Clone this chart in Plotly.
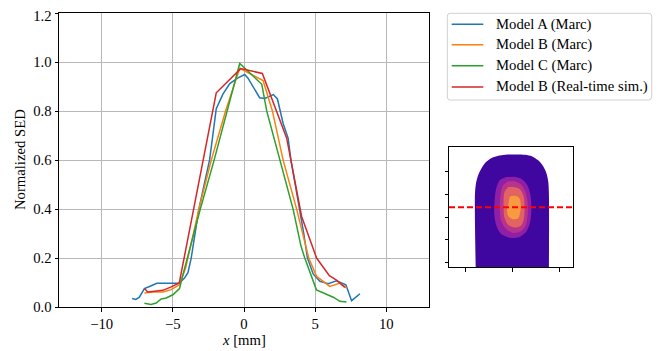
import plotly.graph_objects as go

# ---------------- profile data (x in mm, normalized SED) ----------------
a_x = [-7.86, -7.6, -7.35, -7.0, -6.64, -6.13, -5.5, -4.55, -4.18, -3.94, -3.71, -3.45, -3.17, -2.8,
       -2.42, -2.15, -1.95, -1.48, -1.0, -0.45, 0.05, 0.28, 0.75, 1.1, 1.46, 1.75, 2.06, 2.35, 2.55,
       2.75, 3.1, 3.3, 3.6, 3.92, 4.2, 4.46, 4.86, 5.33, 5.92, 6.5, 7.16, 7.56, 8.15]
a_y = [0.035, 0.031, 0.04, 0.075, 0.084, 0.097, 0.097, 0.097, 0.118, 0.14, 0.2, 0.3, 0.4, 0.5,
       0.6, 0.72, 0.81, 0.87, 0.913, 0.935, 0.95, 0.935, 0.89, 0.855, 0.852, 0.86, 0.868, 0.85, 0.8,
       0.75, 0.69, 0.6, 0.5, 0.4, 0.3, 0.2, 0.135, 0.105, 0.095, 0.107, 0.091, 0.026, 0.054]

b_x = [-7.0, -6.4, -5.7, -5.12, -4.53, -4.1, -3.17, -2.3, -1.3, -0.3, 1.34, 2.0, 2.75, 3.7, 4.55,
       5.1, 6.03, 6.74, 7.2]
b_y = [0.057, 0.061, 0.061, 0.071, 0.091, 0.16, 0.4, 0.6, 0.8, 0.975, 0.925, 0.8, 0.6, 0.4, 0.2,
       0.125, 0.084, 0.098, 0.078]

c_x = [-7.0, -6.53, -6.17, -5.82, -5.47, -5.0, -4.53, -4.3, -3.07, -2.1, -0.3, 1.25, 1.6, 2.55,
       3.45, 4.0, 4.27, 5.09, 5.92, 6.27, 6.74, 7.2]
c_y = [0.015, 0.01, 0.016, 0.033, 0.037, 0.05, 0.075, 0.13, 0.4, 0.6, 0.995, 0.91, 0.8, 0.6,
       0.4, 0.25, 0.2, 0.07, 0.05, 0.04, 0.023, 0.02]

r_x = [-7.0, -6.76, -6.29, -5.7, -5.12, -4.55, -1.95, -0.23, 1.29, 3.0, 4.05, 5.1, 6.0, 6.5, 7.09]
r_y = [0.076, 0.061, 0.064, 0.068, 0.082, 0.098, 0.875, 0.974, 0.954, 0.69, 0.37, 0.2, 0.128,
       0.11, 0.08]

names = ["Model A (Marc)", "Model B (Marc)", "Model C (Marc)", "Model B (Real-time sim.)"]
colors = ["#1f77b4", "#ff7f0e", "#2ca02c", "#d62728"]

x_ticks = [-10, -5, 0, 5, 10]
x_ticktext = ["\u221210", "\u22125", "0", "5", "10"]
y_ticks = [0.0, 0.2, 0.4, 0.6, 0.8, 1.0, 1.2]

# ---------------- inset (SED map, mm) ----------------
tissue_x = [-7.74, -7.89, -7.89, -7.67, -7.19, -6.47, -5.62, -4.36, -2.96, -1.54, 2.69, 4.23,
            5.50, 6.55, 7.27, 7.61, 7.76, 7.76]
tissue_y = [-11.5, -2.05, 5.27, 7.47, 9.30, 10.77, 12.02, 12.97, 13.47, 13.69, 13.69, 13.33,
            12.46, 11.14, 9.52, 7.85, 5.27, -11.5]

lvl1_x = [-1.26, -2.67, -3.38, -3.75, -3.8, -3.3, -2.3, -0.35, 1.56, 3.0, 3.8, 4.05, 3.85, 3.2, 1.91, 0.5]
lvl1_y = [8.8, 8.1, 6.4, 3.5, 0.4, -2.1, -3.8, -4.6, -4.4, -3.2, -1.1, 1.9, 4.9, 7.0, 8.4, 8.85]

lvl2_x = [-0.91, -1.96, -2.5, -2.65, -2.35, -1.26, 0.15, 1.77, 2.8, 3.25, 3.25, 2.8, 1.91, 0.5]
lvl2_y = [7.84, 6.96, 4.76, 1.83, -0.9, -2.7, -3.5, -3.2, -2.0, 0.37, 3.3, 5.49, 7.11, 7.84]

lvl3_x = [-0.85, -1.65, -1.85, -1.7, -0.9, 0.5, 1.85, 2.45, 2.6, 2.45, 1.65, 0.36]
lvl3_y = [6.6, 5.5, 2.56, 0.0, -1.7, -2.3, -1.9, -0.5, 1.83, 4.4, 6.1, 6.6]

lvl4_x = [-0.56, -0.8, -1.1, -0.85, 0.15, 1.25, 1.68, 1.8, 1.58, 0.85, -0.21]
lvl4_y = [4.4, 2.93, 1.47, 0.2, -0.5, -0.3, 1.1, 2.56, 4.03, 4.62, 4.62]

level_colors = ["#3f07a0", "#8f1fa6", "#b8338a", "#e16462", "#f89a40"]
cut_y = 2.13
inset_xticks = [-10, 0, 10]
inset_yticks = [-10, -5, 0, 5, 10]

FONT = "Liberation Serif"
FS = 14.7
W, H = 667, 351
SHIFT = 8  # page offset of the plot div inside the browser window


def px(xp):
    return (xp - SHIFT) / W


def py(yp):
    return 1 - (yp - SHIFT) / H


fig = go.Figure()

for xs, ys, nm, col in zip([a_x, b_x, c_x, r_x], [a_y, b_y, c_y, r_y], names, colors):
    fig.add_trace(go.Scatter(x=xs, y=ys, mode="lines", name=nm, showlegend=False,
                             line=dict(color=col, width=1.5), xaxis="x", yaxis="y"))

for xs, ys, col in zip([tissue_x, lvl1_x, lvl2_x, lvl3_x, lvl4_x],
                       [tissue_y, lvl1_y, lvl2_y, lvl3_y, lvl4_y], level_colors):
    fig.add_trace(go.Scatter(x=xs, y=ys, mode="lines", fill="toself", fillcolor=col,
                             line=dict(width=0, color=col, shape="spline", smoothing=0.8),
                             showlegend=False, hoverinfo="skip", xaxis="x2", yaxis="y2"))

# empty helper trace so the overlaying axis carrying the top tick label is drawn
fig.add_trace(go.Scatter(x=[], y=[], xaxis="x", yaxis="y3", showlegend=False, hoverinfo="skip"))

shapes = [dict(type="line", xref="x2 domain", yref="y2", x0=0, x1=1, y0=cut_y, y1=cut_y,
               line=dict(color="#ff0000", width=2, dash="6px,3px"))]

# legend frame (rounded rectangle) and entries
lx0, lx1, ly0, ly1 = px(447.3), px(651.7), py(100), py(13.3)
rx, ry = 3 / W, 3 / H
frame_path = (f"M {lx0+rx},{ly0} L {lx1-rx},{ly0} Q {lx1},{ly0} {lx1},{ly0+ry} "
              f"L {lx1},{ly1-ry} Q {lx1},{ly1} {lx1-rx},{ly1} L {lx0+rx},{ly1} "
              f"Q {lx0},{ly1} {lx0},{ly1-ry} L {lx0},{ly0+ry} Q {lx0},{ly0} {lx0+rx},{ly0} Z")
shapes.append(dict(type="path", xref="paper", yref="paper", path=frame_path,
                   line=dict(color="#d0d0d0", width=1), fillcolor="rgba(255,255,255,0.8)"))

annotations = []
entry_px = [24.3, 44.7, 65.7, 87.0]
for nm, col, ep in zip(names, colors, entry_px):
    shapes.append(dict(type="line", xref="paper", yref="paper", x0=px(451.7), x1=px(483.3),
                       y0=py(ep), y1=py(ep), line=dict(color=col, width=1.5)))
    annotations.append(dict(text=nm, xref="paper", yref="paper", x=px(494), y=py(ep),
                            xanchor="left", yanchor="middle", showarrow=False,
                            font=dict(family=FONT, size=FS, color="black")))

annotations += [
    dict(text="Normalized SED", xref="paper", yref="paper", x=px(20), y=py(160),
         textangle=-90, showarrow=False, font=dict(family=FONT, size=FS),
         xanchor="center", yanchor="middle"),
    dict(text="<i>x</i> [mm]", xref="paper", yref="paper", x=px(244), y=py(340),
         showarrow=False, font=dict(family=FONT, size=FS),
         xanchor="center", yanchor="middle"),
]

axis_common = dict(showline=True, linecolor="black", linewidth=1, mirror=True, automargin=False,
                   ticks="outside", ticklen=3.5, tickwidth=1, tickcolor="black", zeroline=False,
                   ticklabeloverflow="allow")

main_ydomain = [py(307), py(13.3)]

fig.update_layout(
    template="none",
    width=W, height=H,
    margin=dict(l=0, r=0, t=0, b=0, pad=0),
    paper_bgcolor="white", plot_bgcolor="white",
    font=dict(family=FONT, size=FS, color="black"),
    showlegend=False,
    xaxis=dict(domain=[px(59), px(429)], range=[-13, 13], tickvals=x_ticks, ticktext=x_ticktext,
               showgrid=True, gridcolor="#b8b8b8", gridwidth=1, **axis_common),
    yaxis=dict(domain=main_ydomain, range=[0, 1.2], tickvals=y_ticks,
               ticktext=[f"{v:.1f}" for v in y_ticks[:-1]] + [""],
               showgrid=True, gridcolor="#b8b8b8", gridwidth=1, **axis_common),
    # carries only the top label, nudged down slightly so it stays inside the page
    yaxis3=dict(overlaying="y", anchor="x", side="left", range=[0, 1.2], domain=main_ydomain,
                tickvals=y_ticks[-1:], ticktext=[f"{y_ticks[-1]:.1f}"], ticks="outside",
                ticklen=3.5, tickcolor="rgba(0,0,0,0)", showline=False, showgrid=False,
                zeroline=False, automargin=False, ticklabelshift=3, ticklabeloverflow="allow"),
    xaxis2=dict(domain=[px(449), px(572.7)], range=[-13.4, 12.8], tickvals=inset_xticks,
                showticklabels=False, showgrid=False, anchor="y2", **axis_common),
    yaxis2=dict(domain=[py(267), py(147)], range=[-11, 15.4], tickvals=inset_yticks,
                showticklabels=False, showgrid=False, anchor="x2", **axis_common),
    shapes=shapes,
    annotations=annotations,
)

fig.write_html("out.html")
